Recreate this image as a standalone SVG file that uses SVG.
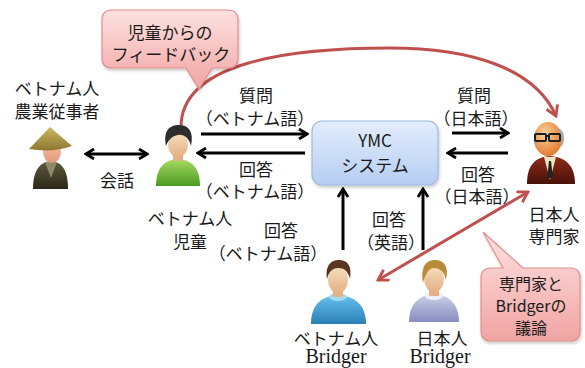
<svg xmlns="http://www.w3.org/2000/svg" width="585" height="368" viewBox="0 0 585 368">
  <style>
    .t { font-family: "Noto Sans CJK JP", "Noto Sans", sans-serif; font-size: 17px; fill: #1a1a1a; text-anchor: middle; }
    .s { font-size: 16px; }
    .serif { font-family: "Liberation Serif", serif; font-size: 20px; fill: #1a1a1a; text-anchor: middle; }
    .blk { stroke: #000; stroke-width: 3; fill: none; }
    .red { stroke: #c0504d; stroke-width: 3; fill: none; }
    .skin { fill: url(#gSkin); }
  </style>
  <defs>
    <marker id="ah" viewBox="0 0 12 12" refX="10" refY="6" markerWidth="12" markerHeight="12" markerUnits="userSpaceOnUse" orient="auto-start-reverse">
      <path d="M2,1 L10,6 L2,11" fill="none" stroke="#000" stroke-width="2.8"/>
    </marker>
    <marker id="ahr" viewBox="0 0 14 14" refX="12" refY="7" markerWidth="14" markerHeight="14" markerUnits="userSpaceOnUse" orient="auto-start-reverse">
      <path d="M2,1 L12,7 L2,13" fill="none" stroke="#c0504d" stroke-width="2.8"/>
    </marker>
    <linearGradient id="gPink" x1="0" y1="0" x2="0" y2="1">
      <stop offset="0" stop-color="#fde2e1"/>
      <stop offset="1" stop-color="#f1a4a3"/>
    </linearGradient>
    <linearGradient id="gBlue" x1="0" y1="0" x2="0" y2="1">
      <stop offset="0" stop-color="#e3edfc"/>
      <stop offset="1" stop-color="#b6cdf2"/>
    </linearGradient>
    <linearGradient id="gSkin" x1="0" y1="0" x2="0" y2="1">
      <stop offset="0" stop-color="#f8dcbc"/>
      <stop offset="1" stop-color="#e2b186"/>
    </linearGradient>
    <linearGradient id="gGreen" x1="0" y1="0" x2="0" y2="1">
      <stop offset="0" stop-color="#a6dc62"/>
      <stop offset="1" stop-color="#4c9a22"/>
    </linearGradient>
    <linearGradient id="gJacket" x1="0" y1="0" x2="0" y2="1">
      <stop offset="0" stop-color="#5f5a3c"/>
      <stop offset="1" stop-color="#2c281a"/>
    </linearGradient>
    <linearGradient id="gHat" x1="0" y1="0" x2="0" y2="1">
      <stop offset="0" stop-color="#cdb862"/>
      <stop offset="1" stop-color="#8c7730"/>
    </linearGradient>
    <linearGradient id="gFarmSkin" x1="0" y1="0" x2="0" y2="1">
      <stop offset="0" stop-color="#f7c3a0"/>
      <stop offset="1" stop-color="#e0977a"/>
    </linearGradient>
    <linearGradient id="gSuit" x1="0" y1="0" x2="0" y2="1">
      <stop offset="0" stop-color="#8e2c1a"/>
      <stop offset="1" stop-color="#4a1109"/>
    </linearGradient>
    <radialGradient id="gBald" cx="0.4" cy="0.35" r="0.7">
      <stop offset="0" stop-color="#fcd29a"/>
      <stop offset="1" stop-color="#e0762c"/>
    </radialGradient>
    <linearGradient id="gShirtBlue" x1="0" y1="0" x2="0" y2="1">
      <stop offset="0" stop-color="#66c0ec"/>
      <stop offset="1" stop-color="#2b7fb6"/>
    </linearGradient>
    <linearGradient id="gShirtLav" x1="0" y1="0" x2="0" y2="1">
      <stop offset="0" stop-color="#cdd0ec"/>
      <stop offset="1" stop-color="#878dbf"/>
    </linearGradient>
    <filter id="sh" x="-10%" y="-10%" width="130%" height="140%">
      <feDropShadow dx="1" dy="2" stdDeviation="1.5" flood-color="#000" flood-opacity="0.22"/>
    </filter>
  </defs>

  <rect width="585" height="368" fill="#fff"/>

  <!-- connectors -->
  <g id="connectors">
    <!-- conversation between farmer and child -->
    <line class="blk" x1="86" y1="154" x2="147" y2="154" marker-start="url(#ah)" marker-end="url(#ah)"/>
    <!-- child <-> YMC -->
    <line class="blk" x1="201" y1="134" x2="307" y2="134" marker-end="url(#ah)"/>
    <line class="blk" x1="305" y1="153" x2="198" y2="153" marker-end="url(#ah)"/>
    <!-- YMC <-> expert -->
    <line class="blk" x1="452" y1="133" x2="508" y2="133" marker-end="url(#ah)"/>
    <line class="blk" x1="508" y1="153" x2="448" y2="153" marker-end="url(#ah)"/>
    <!-- bridgers -> YMC -->
    <line class="blk" x1="343" y1="250" x2="343" y2="189" marker-end="url(#ah)"/>
    <line class="blk" x1="423" y1="250" x2="423" y2="189" marker-end="url(#ah)"/>
    <!-- feedback from child to expert -->
    <path class="red" d="M181,128 C180,62 290,48 390,48 C470,48 535,68 556,116" marker-end="url(#ahr)"/>
    <!-- discussion expert <-> Vietnamese bridger -->
    <line class="red" x1="528" y1="192" x2="378" y2="280" marker-start="url(#ahr)" marker-end="url(#ahr)"/>
  </g>

  <!-- connector labels -->
  <g id="labels" class="t">
    <text x="117" y="187">会話</text>
    <text x="256" y="102">質問</text>
    <text x="255" y="125">（ベトナム語）</text>
    <text x="256" y="176">回答</text>
    <text x="255" y="198">（ベトナム語）</text>
    <text x="474" y="102">質問</text>
    <text x="476" y="125">（日本語）</text>
    <text x="478" y="181">回答</text>
    <text x="477" y="203">（日本語）</text>
    <text x="281" y="237">回答</text>
    <text x="268" y="260">（ベトナム語）</text>
    <text x="389" y="226">回答</text>
    <text x="391" y="249">（英語）</text>
  </g>

  <!-- YMC system -->
  <g id="ymc">
    <rect x="312" y="121" width="126" height="64" rx="10" fill="url(#gBlue)" stroke="#9cb8e2" stroke-width="1.2" filter="url(#sh)"/>
    <text class="t" x="375" y="147">YMC</text>
    <text class="t" x="375" y="172">システム</text>
  </g>

  <!-- Vietnamese farmer -->
  <g id="farmer">
    <path d="M33,189 C33,170 40,162 51,161 C62,162 68,170 68,189 Z" fill="url(#gJacket)"/>
    <path d="M45,162 L51,178 L57,162 Z" fill="#8e8b6c"/>
    <ellipse cx="52" cy="152" rx="9" ry="11" fill="url(#gFarmSkin)"/>
    <path d="M29,149 L50,127 L72,146 Q52,153 29,149 Z" fill="url(#gHat)"/>
    <text class="t" x="57" y="95">ベトナム人</text>
    <text class="t" x="57" y="118">農業従事者</text>
  </g>

  <!-- Vietnamese child -->
  <g id="child">
    <path d="M156,186 C156,168 164,160 178,159 C192,160 200,168 200,186 Z" fill="url(#gGreen)"/>
    <rect x="173" y="152" width="10" height="9" fill="#e2b186"/>
    <ellipse cx="178" cy="145" rx="10" ry="12" class="skin"/>
    <path d="M166,146 C163,130 170,125 179,125 C189,125 194,132 191,146 C189,138 184,134 178,135 C172,136 168,140 166,146 Z" fill="#2d2d2d"/>
    <text class="t" x="190" y="225">ベトナム人</text>
    <text class="t" x="190" y="248">児童</text>
  </g>

  <!-- Japanese expert -->
  <g id="expert">
    <path d="M527,184 C527,164 536,157 550,156 C564,157 575,164 575,184 Z" fill="url(#gSuit)"/>
    <path d="M544,157 L550,180 L556,157 Z" fill="#efe4c4"/>
    <path d="M549,161 L551,161 L553,178 L547,178 Z" fill="#222"/>
    <ellipse cx="548" cy="139" rx="14" ry="17" fill="url(#gBald)"/>
    <path d="M558,128 C565,130 566,142 561,147 C562,140 561,134 558,128 Z" fill="#a9a9a9"/>
    <path d="M537,132 C533,136 533,143 536,147 C536,141 536,136 537,132 Z" fill="#a9a9a9"/>
    <rect x="535" y="134" width="11" height="7" rx="1" fill="none" stroke="#1e1e1e" stroke-width="2"/>
    <rect x="549" y="134" width="11" height="7" rx="1" fill="none" stroke="#1e1e1e" stroke-width="2"/>
    <line x1="546" y1="136" x2="549" y2="136" stroke="#1e1e1e" stroke-width="2"/>
    <text class="t" x="554" y="221">日本人</text>
    <text class="t" x="554" y="243">専門家</text>
  </g>

  <!-- Vietnamese bridger -->
  <g id="bridger-vn">
    <path d="M311,324 C311,304 322,296 338,295 C354,296 366,304 366,324 Z" fill="url(#gShirtBlue)"/>
    <ellipse cx="338" cy="297" rx="9" ry="4" fill="#a3d8f2"/>
    <rect x="333" y="288" width="10" height="9" fill="#e2b186"/>
    <ellipse cx="338" cy="280" rx="10" ry="13" class="skin"/>
    <path d="M327,279 C325,264 332,260 339,260 C348,260 352,266 350,279 C348,271 344,268 338,268 C332,268 329,272 327,279 Z" fill="#5a3620"/>
    <text class="t" x="336" y="345">ベトナム人</text>
    <text class="serif" x="336" y="363">Bridger</text>
  </g>

  <!-- Japanese bridger -->
  <g id="bridger-jp">
    <path d="M409,322 C409,303 420,295 434,294 C448,295 459,303 459,322 Z" fill="url(#gShirtLav)"/>
    <ellipse cx="434" cy="296" rx="9" ry="4" fill="#eeeef8"/>
    <rect x="429" y="287" width="10" height="9" fill="#e2b186"/>
    <ellipse cx="434" cy="279" rx="10" ry="13" class="skin"/>
    <path d="M423,283 C420,264 428,260 435,260 C444,260 449,266 446,280 C444,271 440,268 433,268 C428,269 425,275 423,283 Z" fill="#b98a3a"/>
    <text class="t" x="442" y="345">日本人</text>
    <text class="serif" x="440" y="363">Bridger</text>
  </g>

  <!-- feedback callout -->
  <g id="callout-feedback">
    <path d="M112,10 H228 Q238,10 238,20 V58 Q238,68 228,68 H212 L199,89 L186,68 H112 Q102,68 102,58 V20 Q102,10 112,10 Z" fill="url(#gPink)" stroke="#e0908e" stroke-width="1.2" filter="url(#sh)"/>
    <text class="t" x="170" y="39">児童からの</text>
    <text class="t" x="171" y="61">フィードバック</text>
  </g>

  <!-- discussion callout -->
  <g id="callout-discussion">
    <path d="M491,268 H503 L483,232 L523,268 H570 Q580,268 580,278 V331 Q580,341 570,341 H491 Q481,341 481,331 V278 Q481,268 491,268 Z" fill="url(#gPink)" stroke="#e0908e" stroke-width="1.2" filter="url(#sh)"/>
    <text class="t s" x="531" y="290">専門家と</text>
    <text class="t s" x="531" y="312">Bridgerの</text>
    <text class="t s" x="531" y="334">議論</text>
  </g>
</svg>
